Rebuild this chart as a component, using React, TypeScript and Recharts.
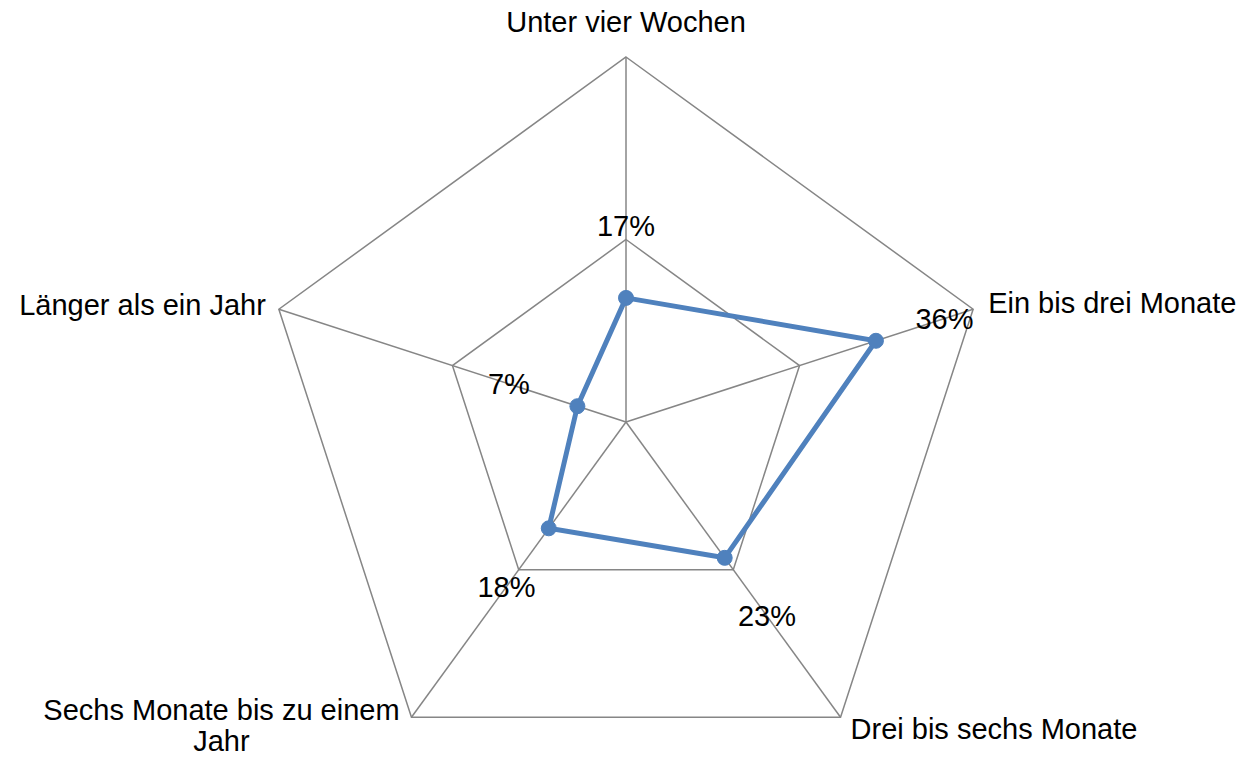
import React from "react";
import { RadarChart, Radar, PolarGrid, PolarAngleAxis, PolarRadiusAxis } from "recharts";

const categories = [
  "Unter vier Wochen",
  "Ein bis drei Monate",
  "Drei bis sechs Monate",
  "Sechs Monate bis zu einem Jahr",
  "Länger als ein Jahr",
];
const values = [17, 36, 23, 18, 7];
const radiusTicks = [0, 25, 50];

const data = categories.map((c, i) => ({ name: c, value: values[i] }));

const W = 1241;
const H = 757;
const CX = 626;
const CY = 422;
const R = 365;
const FONT = "'Liberation Sans', Arial, sans-serif";
const FS = 29;
const RAD = Math.PI / 180;

const polar = (cx: number, cy: number, r: number, angle: number) => ({
  x: cx + r * Math.cos(-angle * RAD),
  y: cy + r * Math.sin(-angle * RAD),
});

const AngleTick = (props: any) => {
  const { payload } = props;
  const angle = payload.coordinate as number;
  const label = String(payload.value);
  const v = polar(CX, CY, R, angle);
  const cos = Math.cos(angle * RAD);
  const sin = Math.sin(angle * RAD);
  const common = { fontFamily: FONT, fontSize: FS, fill: "#000", dominantBaseline: "central" as const };
  if (Math.abs(cos) < 1e-3) {
    return (
      <text x={v.x} y={v.y - 35} textAnchor="middle" {...common}>
        {label}
      </text>
    );
  }
  if (cos > 0 && sin > 0) {
    return (
      <text x={v.x + 15} y={v.y - 6} textAnchor="start" {...common}>
        {label}
      </text>
    );
  }
  if (cos > 0 && sin < 0) {
    return (
      <text x={v.x + 10} y={v.y + 12} textAnchor="start" {...common}>
        {label}
      </text>
    );
  }
  if (cos < 0 && sin < 0) {
    const words = label.split(" ");
    const line1 = words.slice(0, words.length - 1).join(" ");
    const line2 = words[words.length - 1];
    return (
      <text x={v.x - 190} y={v.y - 7} textAnchor="middle" {...common}>
        <tspan x={v.x - 190} dy={0}>{line1}</tspan>
        <tspan x={v.x - 190} dy={31}>{line2}</tspan>
      </text>
    );
  }
  return (
    <text x={v.x - 13} y={v.y - 4} textAnchor="end" {...common}>
      {label}
    </text>
  );
};

const Dot = (props: any) => {
  const { cx, cy, index } = props;
  const dx = cx - CX;
  const dy = cy - CY;
  const len = Math.hypot(dx, dy) || 1;
  const lx = cx + (dx / len) * 72;
  const ly = cy + (dy / len) * 72;
  return (
    <g key={`dot-${index}`}>
      <circle cx={cx} cy={cy} r={7.5} fill="#4F81BD" stroke="#4F81BD" strokeWidth={1} />
      <text
        x={lx}
        y={ly}
        textAnchor="middle"
        dominantBaseline="central"
        fontFamily={FONT}
        fontSize={FS}
        fill="#000"
      >
        {`${values[index]}%`}
      </text>
    </g>
  );
};

export default function App() {
  return (
    <div style={{ position: "absolute", left: 0, top: 0, width: W, height: H, background: "#fff" }}>
      <RadarChart width={W} height={H} data={data} cx={CX} cy={CY} outerRadius={R} startAngle={90} endAngle={-270}>
        <PolarGrid gridType="polygon" stroke="#868686" strokeWidth={1.5} />
        <PolarAngleAxis dataKey="name" tick={<AngleTick />} tickLine={false} axisLine={false} />
        <PolarRadiusAxis domain={[0, 50]} ticks={radiusTicks as any} tick={false} axisLine={false} tickCount={3} />
        <Radar
          dataKey="value"
          stroke="#4F81BD"
          strokeWidth={5}
          fill="none"
          fillOpacity={0}
          dot={<Dot />}
          isAnimationActive={false}
        />
      </RadarChart>
    </div>
  );
}
